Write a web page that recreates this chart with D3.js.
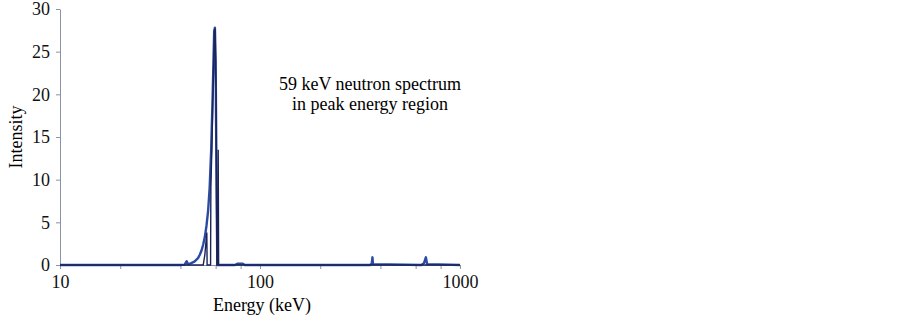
<!DOCTYPE html>
<html>
<head>
<meta charset="utf-8">
<script src="https://cdnjs.cloudflare.com/ajax/libs/d3/7.8.5/d3.min.js"></script>
<style>
  body { margin: 0; background: #fff; }
  svg text { font-family: "Liberation Serif", "Times New Roman", serif; }
  .axis path, .axis line { stroke: #8a94a6; }
</style>
</head>
<body>
<svg width="902" height="318"></svg>
<script>
// energies (keV) and intensities
const blueE = [10, 40, 42, 43, 43.6, 45, 47, 49, 50, 51, 52, 53, 54, 55, 56, 57, 58, 59, 59.5, 60, 60.7, 61.2, 75, 77, 82, 84, 355, 362, 365, 367, 640, 660, 675, 685, 1000];
const blueI = [0, 0, 0.05, 0.45, 0.1, 0.2, 0.4, 0.8, 1.2, 1.7, 2.4, 3.3, 4.6, 6.3, 9, 13.5, 20, 27.4, 27.8, 24, 8, 0, 0, 0.15, 0.15, 0, 0, 0.15, 0.9, 0.1, 0, 0.2, 0.9, 0.1, 0];

const navyE = [10, 52, 53, 54.2, 54.4, 56.6, 56.8, 57.5, 58.3, 59.2, 59.6, 60.3, 60.9, 61.6, 61.8, 62.1, 1000];
const navyI = [0, 0, 1.2, 3.8, 0, 0, 9, 14, 21, 27.5, 27.7, 20, 0, 0, 13.5, 0, 0];

const yTicks = [0, 5, 10, 15, 20, 25, 30];
const xLabels = [10, 100, 1000];
const xMinor = [20, 40, 60, 80, 200, 400, 600, 800];

const margin = { top: 9, right: 442, bottom: 53, left: 60 };
const width = 902 - margin.left - margin.right;
const height = 318 - margin.top - margin.bottom;

const svg = d3.select("svg");
const g = svg.append("g")
    .attr("transform", "translate(" + margin.left + "," + margin.top + ")");

const x = d3.scaleLog().domain([10, 1000]).range([0, width]);
const y = d3.scaleLinear().domain([0, 30]).range([height, 0]);

// y axis
const yAxis = g.append("g")
    .attr("class", "axis")
    .call(d3.axisLeft(y).tickValues(yTicks).tickSize(4).tickPadding(6).tickSizeOuter(0));
yAxis.attr("font-family", null);
yAxis.selectAll("text").style("font-size", "18px").attr("fill", "#111");

// x axis
const xAxis = g.append("g")
    .attr("class", "axis")
    .attr("transform", "translate(0," + height + ")")
    .call(d3.axisBottom(x).tickValues(xLabels.concat(xMinor)).tickSize(4).tickPadding(6)
        .tickFormat(d => xLabels.includes(d) ? d : "").tickSizeOuter(0));
xAxis.attr("font-family", null);
xAxis.selectAll("text").style("font-size", "18px").attr("fill", "#111");

const line = d3.line()
    .x(d => x(d[0]))
    .y(d => y(d[1]));

g.append("path")
    .datum(d3.zip(blueE, blueI))
    .attr("fill", "none")
    .attr("stroke", "#2b4ba3")
    .attr("stroke-width", 2.4)
    .attr("stroke-linejoin", "round")
    .attr("d", line);

g.append("path")
    .datum(d3.zip(navyE, navyI))
    .attr("fill", "none")
    .attr("stroke", "#1b2358")
    .attr("stroke-width", 1.4)
    .attr("d", line);

// labels
svg.append("text")
    .attr("transform", "translate(22,137) rotate(-90)")
    .attr("text-anchor", "middle")
    .style("font-size", "18px")
    .text("Intensity");

svg.append("text")
    .attr("x", 262)
    .attr("y", 311)
    .attr("text-anchor", "middle")
    .style("font-size", "18px")
    .text("Energy (keV)");

const note = svg.append("text")
    .attr("text-anchor", "middle")
    .style("font-size", "18px");
note.append("tspan").attr("x", 370).attr("y", 90).text("59 keV neutron spectrum");
note.append("tspan").attr("x", 370).attr("y", 110).text("in peak energy region");
</script>
</body>
</html>
